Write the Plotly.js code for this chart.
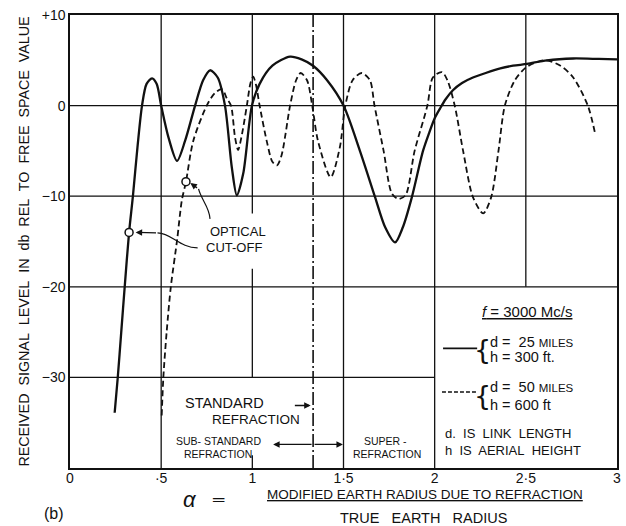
<!DOCTYPE html>
<html><head><meta charset="utf-8">
<script src="https://cdn.plot.ly/plotly-3.0.1.min.js"></script>
<style>html,body{margin:0;padding:0;background:#fff}#chart{width:626px;height:526px}</style>
</head><body><div id="chart"></div>
<script>
// d = 25 miles, h = 300 ft (solid)
const curve25X = [0.245,0.262,0.281,0.300,0.324,0.345,0.370,0.395,0.420,0.450,0.475,0.500,0.540,0.587,0.631,0.686,0.730,0.768,0.810,0.850,0.888,0.915,0.950,0.998,1.040,1.110,1.207,1.270,1.333,1.410,1.500,1.590,1.673,1.728,1.783,1.826,1.875,1.936,1.970,2.000,2.030,2.060,2.100,2.150,2.210,2.280,2.360,2.430,2.507,2.616,2.760,2.900,3.000];
const curve25Y = [-33.9,-30.0,-25.0,-20.0,-14.0,-10.0,-4.6,0.0,2.4,3.0,2.4,0.0,-3.5,-6.1,-3.9,0.0,2.8,3.9,3.1,0.0,-6.9,-9.9,-7.5,0.0,2.4,4.4,5.4,5.1,4.4,2.8,0.0,-5.0,-10.1,-13.4,-15.1,-13.4,-10.1,-5.0,-3.0,-1.4,-0.3,0.7,1.7,2.5,3.1,3.6,4.1,4.4,4.6,5.0,5.2,5.15,5.1];
// d = 50 miles, h = 600 ft (dashed)
const curve50X = [0.503,0.512,0.530,0.553,0.587,0.613,0.636,0.676,0.750,0.795,0.834,0.860,0.883,0.905,0.922,0.940,0.970,0.990,1.005,1.020,1.040,1.080,1.110,1.135,1.160,1.207,1.240,1.265,1.300,1.330,1.360,1.430,1.480,1.510,1.550,1.600,1.645,1.670,1.720,1.765,1.800,1.840,1.890,1.960,1.990,2.040,2.070,2.110,2.156,2.210,2.266,2.310,2.350,2.385,2.440,2.507,2.605,2.690,2.760,2.840,2.880];
const curve50Y = [-34.2,-30.0,-25.0,-20.0,-14.9,-10.5,-8.4,-3.9,0.0,1.4,1.8,0.8,0.0,-3.5,-4.9,-3.5,0.0,2.5,3.2,2.3,0.0,-4.0,-6.2,-6.6,-5.5,0.0,2.8,3.6,2.8,-0.2,-3.9,-7.9,-4.6,0.0,2.8,3.6,2.8,0.0,-5.0,-9.7,-10.3,-9.9,-5.0,0.0,3.1,3.7,2.8,0.0,-5.0,-10.1,-11.9,-10.1,-5.0,0.0,2.8,4.3,5.0,4.4,3.1,0.0,-3.1];
// optical cut-off points
const cutoffX = [0.324, 0.636];
const cutoffY = [-14.0, -8.4];
// standard refraction a = 4/3
const standardRefraction = 4/3;
const xTickVals = [0, 0.5, 1, 1.5, 2, 2.5, 3];
const xTickText = ['0', '·5', '1', '1·5', '2', '2·5', '3'];
const yTickVals = [10, 0, -10, -20, -30];
const yTickText = ['+10', '0', '−10', '−20', '−30'];

const INK = '#111';
const FONT = 'Liberation Sans, Arial, sans-serif';

const traces = [
  {x: curve25X, y: curve25Y, mode: 'lines', line: {color: INK, width: 2.3, shape: 'spline', smoothing: 0.8}, hoverinfo: 'skip'},
  {x: curve50X, y: curve50Y, mode: 'lines', line: {color: INK, width: 1.8, dash: '6px,3.5px', shape: 'spline', smoothing: 0.8}, hoverinfo: 'skip'},
  {x: cutoffX, y: cutoffY, mode: 'markers', marker: {symbol: 'circle', size: 8, color: '#fff', line: {color: INK, width: 1.5}}, hoverinfo: 'skip'}
];

const shapes = [];
function seg(x0, y0, x1, y1, w, dash) {
  shapes.push({type: 'line', xref: 'x', yref: 'y', x0: x0, y0: y0, x1: x1, y1: y1,
    line: {color: INK, width: w || 1.3, dash: dash || 'solid'}, layer: 'below'});
}
// grid
seg(0.5, -40, 0.5, 10);
seg(1, -11.9, 1, 10);
seg(1, -30, 1, -18);
seg(1, -40, 1, -38.6);
seg(1.5, -40, 1.5, 10);
seg(2, -40, 2, 10);
seg(2.5, -20, 2.5, 10);
seg(0, 0, 3, 0);
seg(0, -10, 3, -10);
seg(0, -20, 3, -20);
seg(0, -30, 2, -30);
// standard refraction dash-dot
shapes.push({type: 'line', xref: 'x', yref: 'y', x0: standardRefraction, x1: standardRefraction, y0: -40, y1: 10,
  line: {color: INK, width: 1.6, dash: '13px,3px,2px,3px'}});
// legend samples
shapes.push({type: 'line', xref: 'x', yref: 'y', x0: 2.046, x1: 2.233, y0: -26.8, y1: -26.8, line: {color: INK, width: 1.6}});
shapes.push({type: 'line', xref: 'x', yref: 'y', x0: 2.040, x1: 2.233, y0: -31.6, y1: -31.6, line: {color: INK, width: 1.5, dash: '4px,2px'}});
// curved leaders for optical cut-off labels
shapes.push({type: 'path', xref: 'x', yref: 'y', path: 'M 0.700,-15.7 C 0.600,-15.7 0.560,-14.1 0.480,-14.05', line: {color: INK, width: 1.2}});
shapes.push({type: 'path', xref: 'x', yref: 'y', path: 'M 0.768,-12.5 C 0.765,-11.2 0.720,-10.4 0.705,-9.2', line: {color: INK, width: 1.2}});

const annotations = [];
function lab(x, y, text, size, opts) {
  annotations.push(Object.assign({xref: 'x', yref: 'y', x: x, y: y, text: text, showarrow: false,
    font: {family: FONT, size: size, color: INK}, xanchor: 'center', yanchor: 'middle'}, opts || {}));
}
function arrow(hx, hy, tx, ty) {
  annotations.push({xref: 'x', yref: 'y', axref: 'x', ayref: 'y', x: hx, y: hy, ax: tx, ay: ty, text: '',
    showarrow: true, arrowhead: 2, arrowsize: 1, arrowwidth: 1.3, arrowcolor: INK, standoff: 0, startstandoff: 0});
}
function paper(x, y, text, size, opts) {
  annotations.push(Object.assign({xref: 'paper', yref: 'paper', x: x, y: y, text: text, showarrow: false,
    font: {family: FONT, size: size, color: INK}, xanchor: 'center', yanchor: 'middle'}, opts || {}));
}

lab(0.919, -13.85, 'OPTICAL', 13);
lab(0.899, -15.7, 'CUT-OFF', 13);
arrow(0.360, -14.0, 0.480, -14.05);
arrow(0.660, -8.55, 0.705, -9.2);

lab(0.847, -32.86, 'STANDARD', 14.5);
lab(1.020, -34.62, 'REFRACTION', 13.5);
arrow(1.320, -33.1, 1.225, -33.1);

lab(0.817, -37.0, 'SUB- STANDARD', 10.5);
lab(0.809, -38.5, 'REFRACTION', 10.5);
arrow(1.114, -37.4, 1.333, -37.4);
arrow(1.497, -37.4, 1.333, -37.4);
lab(1.730, -37.0, 'SUPER -', 10.5);
lab(1.736, -38.5, 'REFRACTION', 10.5);

lab(2.509, -22.7, '<u><i>f</i> = 3000 Mc/s</u>', 15);
lab(2.262, -26.9, '{', 27, {font: {family: 'DejaVu Sans', size: 27, color: INK}});
lab(2.293, -26.13, 'd =\u00a0 25 <span style="font-size:11.5px">MILES</span>', 14.5, {xanchor: 'left'});
lab(2.293, -27.78, 'h = 300 ft.', 14.5, {xanchor: 'left'});
lab(2.262, -31.95, '{', 27, {font: {family: 'DejaVu Sans', size: 27, color: INK}});
lab(2.293, -31.09, 'd =\u00a0 50 <span style="font-size:11.5px">MILES</span>', 14.5, {xanchor: 'left'});
lab(2.293, -33.08, 'h = 600 ft', 14.5, {xanchor: 'left'});
lab(2.046, -36.16, 'd.\u00a0 IS\u00a0 LINK\u00a0 LENGTH', 13, {xanchor: 'left'});
lab(2.046, -38.04, 'h\u00a0 IS\u00a0 AERIAL\u00a0 HEIGHT', 13, {xanchor: 'left'});

// x-axis title as a fraction
paper(-0.029, -0.1015, '(b)', 16);
paper(0.219, -0.0706, '<i>α</i>', 22);
paper(0.2706, -0.0706, '═', 16);
paper(0.649, -0.0574, '<u>MODIFIED EARTH RADIUS DUE TO REFRACTION</u>', 13.5);
paper(0.647, -0.1112, 'TRUE\u00a0\u00a0 EARTH\u00a0\u00a0 RADIUS', 14.5);

const layout = {
  width: 626, height: 526,
  margin: {l: 70, r: 9, t: 15, b: 58},
  paper_bgcolor: '#fff', plot_bgcolor: '#fff',
  showlegend: false,
  font: {family: FONT, color: INK},
  xaxis: {range: [0, 3], tickvals: xTickVals, ticktext: xTickText, showgrid: false, zeroline: false,
    showline: true, mirror: true, linecolor: INK, linewidth: 1.6, ticks: '', ticklabelstandoff: -3,
    tickfont: {family: FONT, size: 14, color: INK}, fixedrange: true},
  yaxis: {range: [-40, 10], tickvals: yTickVals, ticktext: yTickText, showgrid: false, zeroline: false,
    showline: true, mirror: true, linecolor: INK, linewidth: 1.6, ticks: '',
    tickfont: {family: FONT, size: 14, color: INK}, fixedrange: true,
    title: {text: 'RECEIVED\u00a0 SIGNAL\u00a0 LEVEL\u00a0 IN\u00a0 db\u00a0 REL\u00a0 TO\u00a0 FREE\u00a0 SPACE\u00a0 VALUE',
      font: {family: FONT, size: 14.3, color: INK}, standoff: 9}},
  shapes: shapes,
  annotations: annotations
};

Plotly.newPlot('chart', traces, layout, {staticPlot: true, displayModeBar: false});
</script>
</body></html>
